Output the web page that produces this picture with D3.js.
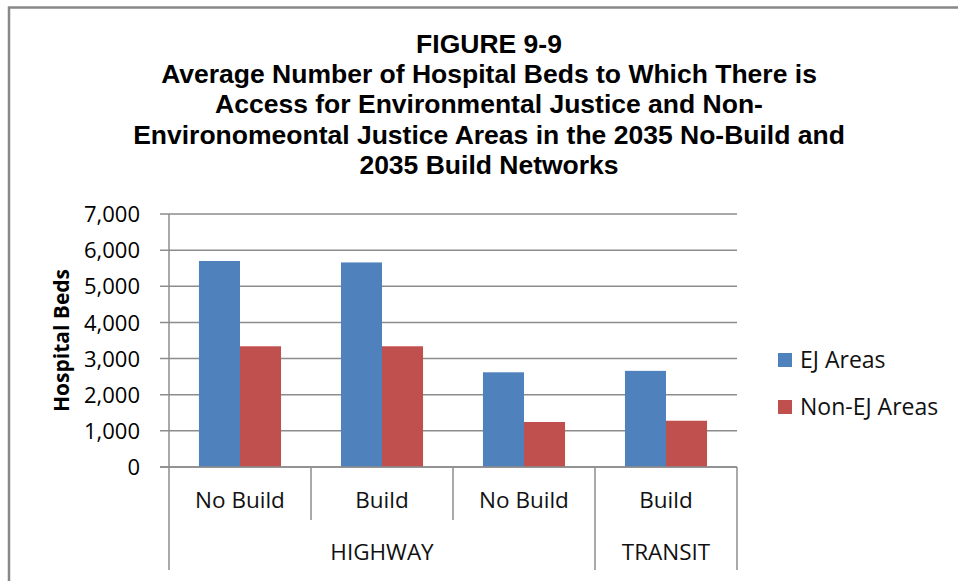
<!DOCTYPE html>
<html><head><meta charset="utf-8">
<script src="https://cdn.jsdelivr.net/npm/d3@7"></script>
<style>
html,body{margin:0;padding:0;background:#fff;}
svg{display:block;}
</style></head>
<body>
<svg id="chart" width="958" height="581"></svg>
<script>
const titleLines = ["FIGURE 9-9","Average Number of Hospital Beds to Which There is","Access for Environmental Justice and Non-","Environomeontal Justice Areas in the 2035 No-Build and","2035 Build Networks"];
const categories = ["No Build","Build","No Build","Build"];
const groups = [{name:"HIGHWAY", span:3},{name:"TRANSIT", span:1}];
const seriesNames = ["EJ Areas","Non-EJ Areas"];
const ejValues = [5700, 5660, 2620, 2660];
const nonEjValues = [3340, 3340, 1245, 1280];
const yTicks = [0,1000,2000,3000,4000,5000,6000,7000];
const colors = ["#4F81BD","#C0504D"];
const yLabel = "Hospital Beds";

(function(){
const svg = d3.select("#chart");
svg.append("path").attr("d","M9,581 V7.5 H958").attr("fill","none").attr("stroke","#888").attr("stroke-width",2.5);

const tfont = "'Liberation Sans', Arial, sans-serif";
svg.append("g").selectAll("text").data(titleLines).join("text")
  .attr("x",489).attr("y",(d,i)=>53+i*30.2)
  .attr("text-anchor","middle").attr("font-family",tfont).attr("font-weight","bold")
  .attr("font-size",26.5).attr("fill","#000").text(d=>d);

const pL=169, pR=737, pT=214, pB=467;
const y = d3.scaleLinear().domain([0,7000]).range([pB,pT]);
const x0 = d3.scaleBand().domain(d3.range(categories.length)).range([pL,pR]).paddingInner(0).paddingOuter(0);
const x1 = d3.scaleBand().domain([0,1]).range([0,x0.bandwidth()]).paddingInner(0).paddingOuter(0.73);

const font = "'Open Sans', sans-serif";
const grid="#8c8c8c";
svg.append("g").selectAll("line").data(yTicks).join("line")
  .attr("x1",pL-9).attr("x2",pR).attr("y1",d=>y(d)).attr("y2",d=>y(d))
  .attr("stroke",grid).attr("stroke-width",1.5);
const yAxis = d3.axisLeft(y).tickValues(yTicks).tickSize(0).tickPadding(0).tickFormat(d3.format(","));
const ya = svg.append("g").attr("transform",`translate(${pL},0)`).call(yAxis);
ya.select(".domain").remove();
ya.selectAll("text").attr("x",-29).attr("font-family",font).attr("font-size",22).attr("fill","#000").attr("dy","0.35em");
svg.append("line").attr("x1",pL).attr("x2",pL).attr("y1",pT).attr("y2",570).attr("stroke",grid).attr("stroke-width",1.5);

svg.append("text").attr("transform",`translate(69,${(pT+pB)/2}) rotate(-90)`)
  .attr("text-anchor","middle").attr("font-family",font).attr("font-weight","bold").attr("font-size",21).attr("fill","#000").text(yLabel);

const data = categories.map((c,i)=>({i, vals:[ejValues[i],nonEjValues[i]]}));
const bg = svg.append("g").selectAll("g").data(data).join("g").attr("transform",d=>`translate(${x0(d.i)},0)`);
bg.selectAll("rect").data(d=>d.vals.map((v,k)=>({v,k}))).join("rect")
  .attr("x",d=>x1(d.k)).attr("width",x1.bandwidth())
  .attr("y",d=>y(d.v)).attr("height",d=>pB-y(d.v))
  .attr("fill",d=>colors[d.k]);

svg.append("line").attr("x1",pL-9).attr("x2",pR).attr("y1",pB).attr("y2",pB).attr("stroke",grid).attr("stroke-width",1.5);

let acc=0; const groupBounds=[];
groups.forEach(g=>{groupBounds.push([acc,acc+g.span]); acc+=g.span;});
const longIdx = new Set(groupBounds.map(b=>b[1]));
for(let i=1;i<=categories.length;i++){
  const xx = i<categories.length ? x0(i) : pR;
  svg.append("line").attr("x1",xx).attr("x2",xx).attr("y1",pB).attr("y2",longIdx.has(i)?570:520).attr("stroke",grid).attr("stroke-width",1.5);
}
svg.append("g").selectAll("text").data(categories).join("text")
  .attr("x",(d,i)=>x0(i)+x0.bandwidth()/2).attr("y",508)
  .attr("text-anchor","middle").attr("font-family",font).attr("font-size",22.5).attr("fill","#111").text(d=>d);
svg.append("g").selectAll("text").data(groupBounds).join("text")
  .attr("x",b=>(x0(b[0]) + (b[1]<categories.length?x0(b[1]):pR))/2).attr("y",560)
  .attr("text-anchor","middle").attr("font-family",font).attr("font-size",22.5).attr("fill","#111").text((b,i)=>groups[i].name);

const lg = svg.append("g").selectAll("g").data(seriesNames).join("g").attr("transform",(d,i)=>`translate(778,${353+i*47})`);
lg.append("rect").attr("width",14).attr("height",14).attr("fill",(d,i)=>colors[i]);
lg.append("text").attr("x",22).attr("y",7).attr("dy","0.35em").attr("font-family",font).attr("font-size",23).attr("fill","#111").text(d=>d);
})();
</script>
</body></html>
